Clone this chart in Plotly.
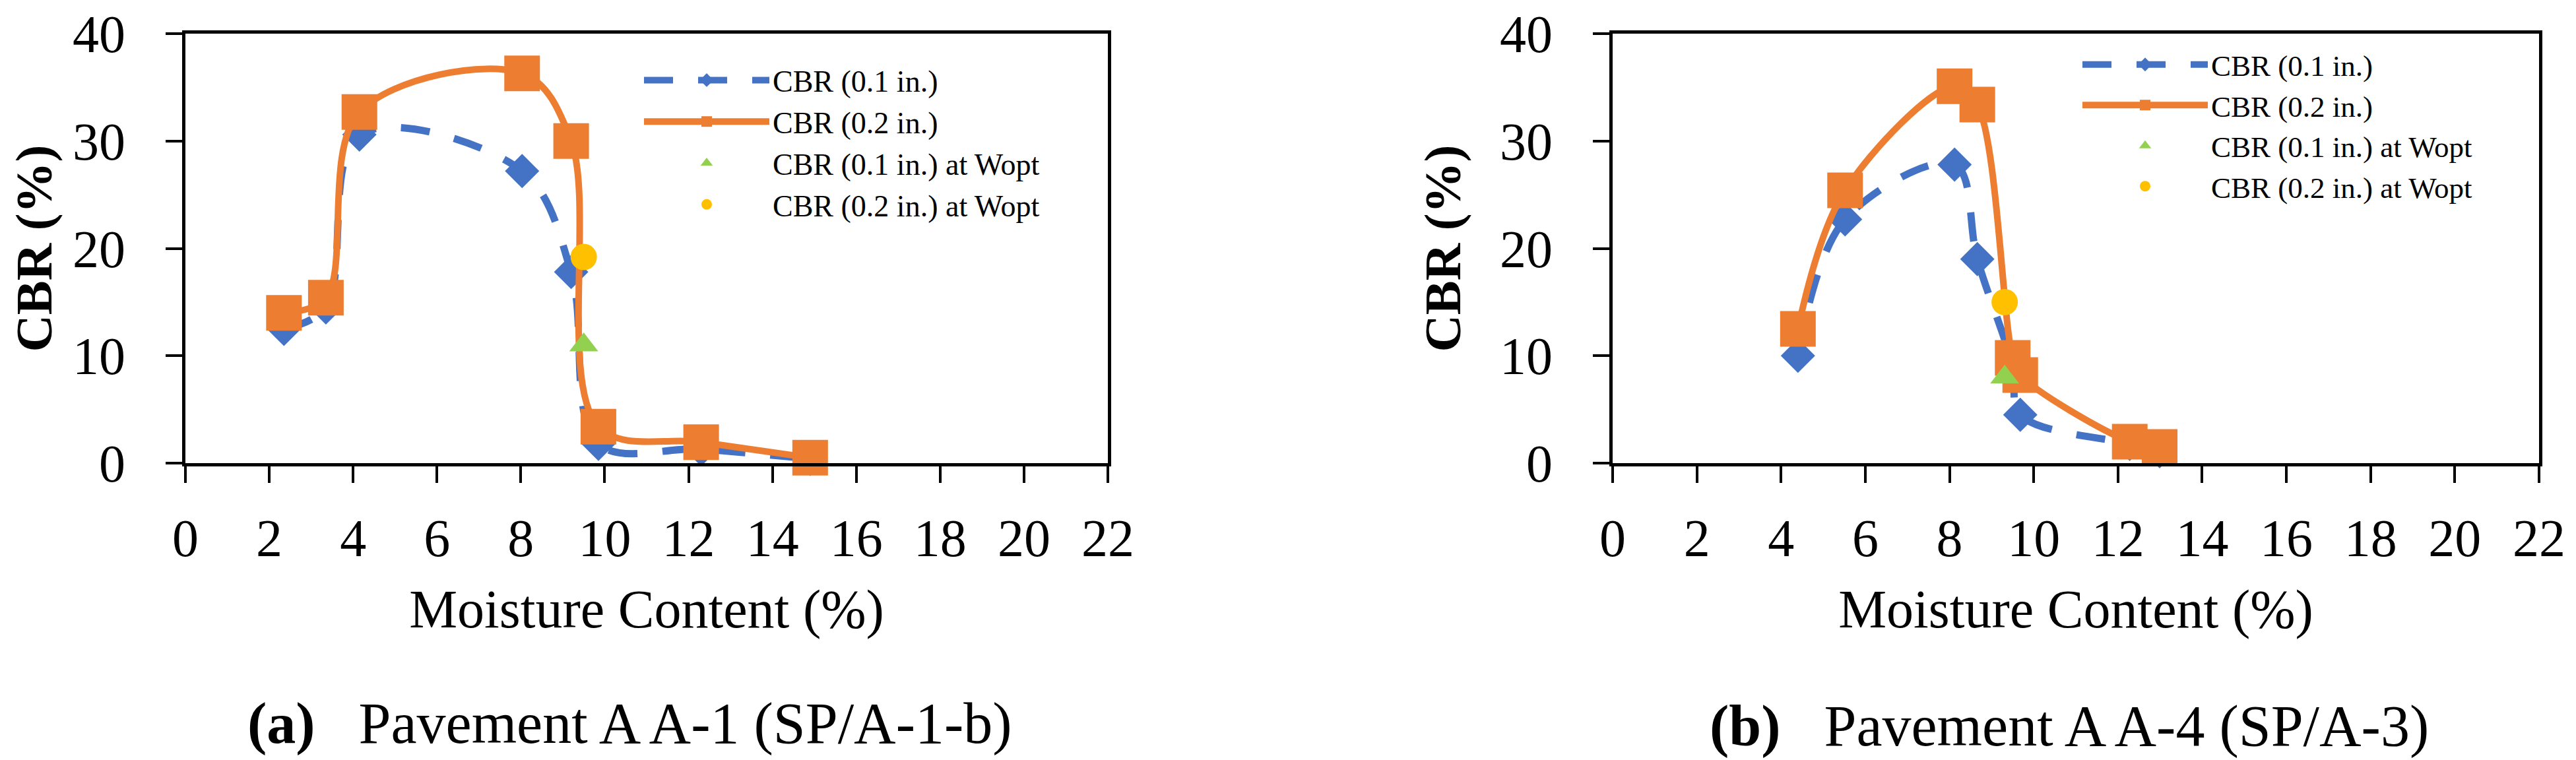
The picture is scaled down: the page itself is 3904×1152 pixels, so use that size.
import plotly.graph_objects as go

W, H = 3904, 1152
FONT = "Liberation Serif"

# ---------------- data ----------------
# (a) Pavement A A-1
a_moisture = [2.35, 3.35, 4.15, 8.03, 9.2, 9.85, 12.3, 14.9]
a_cbr_01 = [12.5, 14.5, 30.6, 27.2, 17.8, 1.8, 1.3, 0.4]
a_cbr_02 = [14.0, 15.4, 32.7, 36.3, 30.0, 3.4, 1.95, 0.5]
a_wopt = [9.5]
a_cbr_01_wopt = [11.0]
a_cbr_02_wopt = [19.2]

# (b) Pavement A A-4
b_moisture = [4.4, 5.52, 8.12, 8.66, 9.5, 9.68, 12.28, 12.99]
b_cbr_01 = [10.0, 22.7, 27.8, 19.0, 9.0, 4.5, 1.8, 1.1]
b_cbr_02 = [12.5, 25.4, 35.1, 33.4, 9.8, 8.2, 2.0, 1.5]
b_wopt = [9.31]
b_cbr_01_wopt = [8.0]
b_cbr_02_wopt = [15.0]

x_ticks = list(range(0, 23, 2))
y_ticks = [0, 10, 20, 30, 40]

series_names = ["CBR (0.1 in.)", "CBR (0.2 in.)",
                "CBR (0.1 in.) at Wopt", "CBR (0.2 in.) at Wopt"]
captions = ["<b>(a)</b>\u00a0\u00a0\u00a0Pavement A A-1 (SP/A-1-b)",
            "<b>(b)</b>\u00a0\u00a0\u00a0Pavement A A-4 (SP/A-3)"]
x_title = "Moisture Content (%)"
y_title = "<b>CBR (%)</b>"

BLUE, ORANGE, GREEN, YELLOW = "#4472C4", "#ED7D31", "#92D050", "#FFC000"

fig = go.Figure()


def add_panel(xs, c01, c02, w, w01, w02, xa, ya, leg):
    fig.add_trace(go.Scatter(
        x=xs, y=c01, name=series_names[0], mode="lines+markers",
        line=dict(color=BLUE, width=11, dash="44px,38px", shape="spline", smoothing=1),
        marker=dict(symbol="diamond", size=40, color=BLUE),
        xaxis=xa, yaxis=ya, legend=leg, cliponaxis=False))
    fig.add_trace(go.Scatter(
        x=xs, y=c02, name=series_names[1], mode="lines+markers",
        line=dict(color=ORANGE, width=10, shape="spline", smoothing=1),
        marker=dict(symbol="square", size=54, color=ORANGE),
        xaxis=xa, yaxis=ya, legend=leg, cliponaxis=False))
    fig.add_trace(go.Scatter(
        x=w, y=w01, name=series_names[2], mode="markers",
        marker=dict(symbol="triangle-up", size=38, color=GREEN),
        xaxis=xa, yaxis=ya, legend=leg, cliponaxis=False))
    fig.add_trace(go.Scatter(
        x=w, y=w02, name=series_names[3], mode="markers",
        marker=dict(symbol="circle", size=40, color=YELLOW),
        xaxis=xa, yaxis=ya, legend=leg, cliponaxis=False))


add_panel(a_moisture, a_cbr_01, a_cbr_02, a_wopt, a_cbr_01_wopt, a_cbr_02_wopt,
          "x", "y", "legend")
add_panel(b_moisture, b_cbr_01, b_cbr_02, b_wopt, b_cbr_01_wopt, b_cbr_02_wopt,
          "x2", "y2", "legend2")

y_dom = [1 - 694 / H, 1 - 43 / H]


def xaxis_cfg(dom, anchor):
    return dict(
        domain=dom, anchor=anchor, range=[0, 22], tickvals=x_ticks,
        showline=True, linecolor="black", linewidth=5, mirror=True,
        ticks="outside", ticklen=25, tickwidth=4, tickcolor="black",
        showgrid=False, zeroline=False, ticklabelstandoff=15, automargin=False,
        tickfont=dict(family=FONT, size=80, color="black"),
        title=dict(text=x_title, standoff=36,
                   font=dict(family=FONT, size=82, color="black")),
    )


def yaxis_cfg(anchor):
    return dict(
        domain=y_dom, anchor=anchor, range=[0, 40], tickvals=y_ticks,
        showline=True, linecolor="black", linewidth=5, mirror=True,
        ticks="outside", ticklen=25, tickwidth=4, tickcolor="black",
        showgrid=False, zeroline=False, ticklabelstandoff=45, automargin=False,
        tickfont=dict(family=FONT, size=80, color="black"),
        title=dict(text=y_title, standoff=35,
                   font=dict(family=FONT, size=78, color="black")),
    )


legend_common = dict(xanchor="left", yanchor="top", bgcolor="rgba(0,0,0,0)",
                     borderwidth=0, itemwidth=190, tracegroupgap=0,
                     itemsizing="trace")

fig.update_layout(
    width=W, height=H, paper_bgcolor="white", plot_bgcolor="white",
    margin=dict(l=0, r=0, t=0, b=0, autoexpand=False),
    font=dict(family=FONT, color="black"),
    xaxis=xaxis_cfg([273 / W, 1671 / W], "y"),
    yaxis=yaxis_cfg("x"),
    xaxis2=xaxis_cfg([2436 / W, 3840 / W], "y2"),
    yaxis2=yaxis_cfg("x2"),
    legend=dict(x=963 / W, y=1 - 77 / H,
                font=dict(family=FONT, size=46, color="black"), **legend_common),
    legend2=dict(x=3143 / W, y=1 - 54 / H,
                 font=dict(family=FONT, size=45, color="black"), **legend_common),
    showlegend=True,
)

fig.add_annotation(text=captions[0], xref="paper", yref="paper",
                   x=946 / W, y=1 - 1088 / H, xanchor="center", yanchor="middle",
                   showarrow=False, font=dict(family=FONT, size=88, color="black"))
fig.add_annotation(text=captions[1], xref="paper", yref="paper",
                   x=3128 / W, y=1 - 1092 / H, xanchor="center", yanchor="middle",
                   showarrow=False, font=dict(family=FONT, size=88, color="black"))

fig.write_html("out.html")
